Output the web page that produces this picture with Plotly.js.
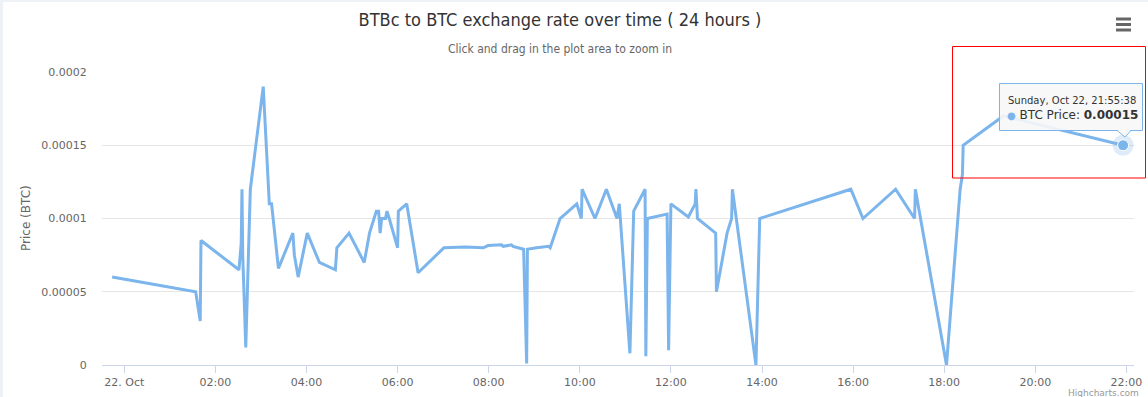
<!DOCTYPE html>
<html>
<head>
<meta charset="utf-8">
<script src="https://cdn.plot.ly/plotly-3.0.1.min.js"></script>
<style>
  html, body { margin: 0; padding: 0; background: #eef2f6; }
  #chart { position: absolute; left: 3px; top: 2px; width: 1145px; height: 395px; background: #ffffff; }
</style>
</head>
<body>
<div id="chart"></div>
<script>
// ---- data ----
const times = [
  '2017-10-21 23:44', '2017-10-22 01:34', '2017-10-22 01:40', '2017-10-22 01:41',
  '2017-10-22 02:31', '2017-10-22 02:34', '2017-10-22 02:35', '2017-10-22 02:36',
  '2017-10-22 02:40', '2017-10-22 02:46', '2017-10-22 03:03', '2017-10-22 03:11',
  '2017-10-22 03:14', '2017-10-22 03:23', '2017-10-22 03:42', '2017-10-22 03:44',
  '2017-10-22 03:49', '2017-10-22 04:01', '2017-10-22 04:17', '2017-10-22 04:38',
  '2017-10-22 04:40', '2017-10-22 04:56', '2017-10-22 05:16', '2017-10-22 05:23',
  '2017-10-22 05:32', '2017-10-22 05:35', '2017-10-22 05:37', '2017-10-22 05:39',
  '2017-10-22 05:44', '2017-10-22 05:46', '2017-10-22 05:49', '2017-10-22 06:00',
  '2017-10-22 06:01', '2017-10-22 06:12', '2017-10-22 06:27', '2017-10-22 07:01',
  '2017-10-22 07:29', '2017-10-22 07:53', '2017-10-22 07:59', '2017-10-22 08:17',
  '2017-10-22 08:19', '2017-10-22 08:30', '2017-10-22 08:32', '2017-10-22 08:46',
  '2017-10-22 08:50', '2017-10-22 08:51', '2017-10-22 09:03', '2017-10-22 09:19',
  '2017-10-22 09:21', '2017-10-22 09:34', '2017-10-22 09:56', '2017-10-22 10:02',
  '2017-10-22 10:03', '2017-10-22 10:20', '2017-10-22 10:35', '2017-10-22 10:49',
  '2017-10-22 10:52', '2017-10-22 11:06', '2017-10-22 11:11', '2017-10-22 11:26',
  '2017-10-22 11:27', '2017-10-22 11:29', '2017-10-22 11:55', '2017-10-22 11:57',
  '2017-10-22 12:00', '2017-10-22 12:23', '2017-10-22 12:32', '2017-10-22 12:33',
  '2017-10-22 12:35', '2017-10-22 12:59', '2017-10-22 13:00', '2017-10-22 13:14',
  '2017-10-22 13:20', '2017-10-22 13:21', '2017-10-22 13:52', '2017-10-22 13:57',
  '2017-10-22 15:57', '2017-10-22 16:13', '2017-10-22 16:56', '2017-10-22 17:21',
  '2017-10-22 17:22', '2017-10-22 18:03', '2017-10-22 18:21', '2017-10-22 18:24',
  '2017-10-22 18:25', '2017-10-22 19:18', '2017-10-22 21:55:38'
];
const prices = [
  0.00006, 0.00005, 0.00003, 0.000085,
  0.000065, 0.000083, 0.00012, 0.000075,
  0.000012, 0.00012, 0.00019, 0.00011,
  0.00011, 0.000066, 0.00009, 0.000075,
  0.00006, 0.00009, 0.00007, 0.000065,
  0.00008, 0.00009, 0.00007, 0.00009,
  0.000105, 0.000105, 0.00009, 0.0001,
  0.0001, 0.000105, 0.0001, 0.00008,
  0.000105, 0.00011, 0.000063, 0.00008,
  0.0000805, 0.00008, 0.0000815, 0.000082,
  0.000081, 0.000082, 0.000081, 0.000079,
  0.000001, 0.000079, 0.00008, 0.000081,
  0.00008, 0.0001, 0.00011, 0.0001,
  0.00012, 0.0001, 0.00012, 0.0001,
  0.00011, 0.000008, 0.000105, 0.00012,
  0.000006, 0.0001, 0.000103, 0.00001,
  0.00011, 0.000101, 0.00011, 0.00012,
  0.0001, 0.00009, 0.00005, 0.00009,
  0.0001, 0.00012, 0.0, 0.0001,
  0.00012, 0.0001, 0.00012, 0.0001,
  0.00012, 0.0, 0.00012, 0.00013,
  0.00015, 0.00017, 0.00015
];
const xTickVals = [
  '2017-10-22 00:00', '2017-10-22 02:00', '2017-10-22 04:00', '2017-10-22 06:00',
  '2017-10-22 08:00', '2017-10-22 10:00', '2017-10-22 12:00', '2017-10-22 14:00',
  '2017-10-22 16:00', '2017-10-22 18:00', '2017-10-22 20:00', '2017-10-22 22:00'
];
const xTickText = ['22. Oct', '02:00', '04:00', '06:00', '08:00', '10:00', '12:00',
  '14:00', '16:00', '18:00', '20:00', '22:00'];
const yTickVals = [0, 0.00005, 0.0001, 0.00015, 0.0002];
const yTickText = ['0', '0.00005', '0.0001', '0.00015', '0.0002'];

const seriesName = 'BTC Price';
const titleText = 'BTBc to BTC exchange rate over time ( 24 hours )';
const subtitleText = 'Click and drag in the plot area to zoom in';
const yTitle = 'Price (BTC)';
const tooltipHeader = 'Sunday, Oct 22, 21:55:38';

// ---- layout helpers (pixel -> paper within plot area) ----
const PL = 102, PR = 1134, PT = 72, PB = 365;
const px = x => (x - PL) / (PR - PL);
const py = y => (PB - y) / (PB - PT);

const FONT = '"DejaVu Sans", Verdana, sans-serif';
const lineColor = '#7cb5ec';
const lastIdx = times.length - 1;

const traces = [
  {
    type: 'scatter', mode: 'lines', x: times, y: prices, name: seriesName,
    line: { color: lineColor, width: 3 }, hoverinfo: 'skip'
  },
  {
    type: 'scatter', mode: 'markers', x: [times[lastIdx]], y: [prices[lastIdx]],
    marker: { size: 21, color: 'rgba(124,181,236,0.25)' }, hoverinfo: 'skip'
  },
  {
    type: 'scatter', mode: 'markers', x: [times[lastIdx]], y: [prices[lastIdx]],
    marker: { size: 11, color: lineColor, line: { color: '#ffffff', width: 1 } }, hoverinfo: 'skip'
  }
];

const layout = {
  width: 1145, height: 395,
  margin: { l: PL - 3, r: 1148 - PR, t: PT - 2, b: 397 - PB, pad: 0 },
  paper_bgcolor: '#ffffff', plot_bgcolor: '#ffffff',
  showlegend: false,
  font: { family: FONT, color: '#666666', size: 11 },
  title: {
    text: titleText,
    font: { family: '"DejaVu Sans Condensed", "DejaVu Sans", sans-serif', size: 18, color: '#333333' },
    xref: 'container', x: (560 - 3) / 1145, xanchor: 'center',
    yref: 'container', y: 1 - (20 - 2) / 395, yanchor: 'middle'
  },
  xaxis: {
    type: 'date',
    range: ['2017-10-21 23:30:37', '2017-10-22 22:10:01'],
    tickmode: 'array', tickvals: xTickVals, ticktext: xTickText,
    ticks: 'outside', ticklen: 7, tickcolor: '#ccd6eb', tickwidth: 1,
    showline: true, linecolor: '#ccd6eb', linewidth: 1,
    showgrid: false, zeroline: false,
    tickfont: { family: FONT, size: 11, color: '#666666' },
    fixedrange: true
  },
  yaxis: {
    range: [0, 0.0002],
    tickmode: 'array', tickvals: yTickVals, ticktext: yTickText,
    ticks: 'outside', ticklen: 12, tickcolor: 'rgba(0,0,0,0)',
    showgrid: true, gridcolor: '#e6e6e6', gridwidth: 1,
    zeroline: false, showline: false,
    tickfont: { family: FONT, size: 11, color: '#666666' },
    fixedrange: true
  },
  annotations: [
    { text: subtitleText, xref: 'paper', yref: 'paper', x: px(560), y: py(49),
      xanchor: 'center', yanchor: 'middle', showarrow: false,
      font: { family: '"DejaVu Sans Condensed", "DejaVu Sans", sans-serif', size: 12, color: '#666666' } },
    { text: yTitle, xref: 'paper', yref: 'paper', x: px(26), y: py(218),
      xanchor: 'center', yanchor: 'middle', textangle: -90, showarrow: false,
      font: { family: FONT, size: 12, color: '#666666' } },
    { text: 'Highcharts.com', xref: 'paper', yref: 'paper', x: px(1141), y: py(393),
      xanchor: 'right', yanchor: 'middle', showarrow: false,
      font: { family: FONT, size: 9, color: '#999999' } },
    { text: tooltipHeader, xref: 'paper', yref: 'paper', x: px(1006), y: py(100),
      xanchor: 'left', yanchor: 'middle', showarrow: false,
      font: { family: FONT, size: 10, color: '#333333' } },
    { text: '<span style="color:' + lineColor + ';font-size:10px">●</span> ' + seriesName + ': <b>' +
        prices[lastIdx].toFixed(5) + '</b>',
      xref: 'paper', yref: 'paper', x: px(1005), y: py(115),
      xanchor: 'left', yanchor: 'middle', showarrow: false,
      font: { family: FONT, size: 12, color: '#333333' } }
  ],
  shapes: [
    // tooltip box
    { type: 'rect', xref: 'paper', yref: 'paper', x0: px(999.5), x1: px(1142.5), y0: py(130.5), y1: py(83.5),
      fillcolor: 'rgba(247,247,247,0.9)', line: { color: lineColor, width: 1 }, layer: 'above' },
    { type: 'path', xref: 'paper', yref: 'paper',
      path: 'M ' + px(1117) + ' ' + py(130.5) + ' L ' + px(1125) + ' ' + py(137) + ' L ' + px(1131) + ' ' + py(130.5) + ' Z',
      fillcolor: 'rgba(247,247,247,0.9)', line: { color: lineColor, width: 1 }, layer: 'above' },
    { type: 'line', xref: 'paper', yref: 'paper', x0: px(1118), x1: px(1130), y0: py(130.5), y1: py(130.5),
      line: { color: 'rgba(247,247,247,1)', width: 1.5 }, layer: 'above' },
    // export menu icon
    { type: 'line', xref: 'paper', yref: 'paper', x0: px(1116), x1: px(1131), y0: py(19), y1: py(19),
      line: { color: '#666666', width: 3 } },
    { type: 'line', xref: 'paper', yref: 'paper', x0: px(1116), x1: px(1131), y0: py(24.5), y1: py(24.5),
      line: { color: '#666666', width: 3 } },
    { type: 'line', xref: 'paper', yref: 'paper', x0: px(1116), x1: px(1131), y0: py(30), y1: py(30),
      line: { color: '#666666', width: 3 } },
    // red highlight box
    { type: 'rect', xref: 'paper', yref: 'paper', x0: px(952.5), x1: px(1145.5), y0: py(178), y1: py(46.5),
      line: { color: '#ff0000', width: 1 }, fillcolor: 'rgba(0,0,0,0)', layer: 'above' }
  ]
};

Plotly.newPlot('chart', traces, layout, { displayModeBar: false, staticPlot: true });
</script>
</body>
</html>
